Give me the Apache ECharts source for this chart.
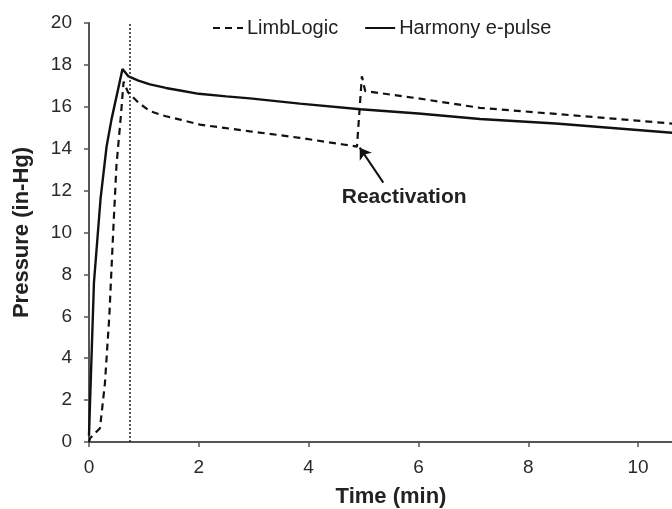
<!DOCTYPE html>
<html><head><meta charset="utf-8">
<script src="https://cdn.jsdelivr.net/npm/echarts@6/dist/echarts.min.js"></script>
<style>html,body{margin:0;padding:0;background:#fff}#c{width:672px;height:509px}</style>
</head><body><div id="c"></div>
<script>
var xTicks = [0, 2, 4, 6, 8, 10];
var yTicks = [0, 2, 4, 6, 8, 10, 12, 14, 16, 18, 20];
var harmonyX = [0, 0.02, 0.09, 0.21, 0.32, 0.41, 0.61, 0.72, 0.9, 1.11, 1.4, 1.66, 2.0, 2.5, 2.93, 3.84, 4.94, 6.0, 7.12, 8.5, 10.62, 11];
var harmonyY = [0.3, 2.0, 7.6, 11.6, 14.1, 15.4, 17.8, 17.45, 17.25, 17.07, 16.9, 16.78, 16.62, 16.5, 16.4, 16.15, 15.88, 15.68, 15.42, 15.2, 14.76, 14.7];
var limbX = [0, 0.02, 0.2, 0.29, 0.37, 0.44, 0.5, 0.58, 0.63, 0.71, 0.9, 1.11, 1.4, 1.66, 2.02, 2.5, 2.93, 3.84, 4.63, 4.88, 4.97, 5.03, 6.0, 7.12, 8.5, 10.62, 11];
var limbY = [0, 0.18, 0.66, 2.8, 6.0, 10.0, 13.2, 15.55, 17.2, 16.7, 16.2, 15.79, 15.55, 15.39, 15.15, 14.98, 14.83, 14.52, 14.2, 14.1, 17.46, 16.75, 16.4, 15.95, 15.66, 15.2, 15.12];
var markerX = 0.75;
var noteText = 'Reactivation';
var notePos = [5.74, 11.7];
var arrowFrom = [5.36, 12.38];
var arrowTo = [4.93, 14.05];

function pairs(xs, ys) { return xs.map(function (x, i) { return [x, ys[i]]; }); }

var chart = echarts.init(document.getElementById('c'));
var font = 'Liberation Sans, Arial, sans-serif';
chart.setOption({
  animation: false,
  backgroundColor: '#fff',
  legend: {
    top: 13, left: 207, itemWidth: 30, itemHeight: 10, itemGap: 26,
    itemStyle: { opacity: 0 },
    textStyle: { fontFamily: font, fontSize: 20, color: '#222', padding: [0, 0, 0, -1] },
    data: ['LimbLogic', 'Harmony e-pulse']
  },
  grid: { left: 89, right: -21, top: 23, bottom: 67, containLabel: false, outerBoundsMode: 'none' },
  xAxis: {
    type: 'value', min: 0, max: 11, interval: 2,
    name: 'Time (min)', nameLocation: 'middle', nameGap: 44,
    nameTextStyle: { fontFamily: font, fontSize: 22, fontWeight: 'bold', color: '#222' },
    axisLine: { lineStyle: { color: '#555', width: 2 } },
    axisTick: { show: true, length: 5, lineStyle: { color: '#555', width: 1.5 } },
    axisLabel: { fontFamily: font, fontSize: 19, color: '#2a2a2a', margin: 16, showMaxLabel: false,
      formatter: function (v) { return xTicks.indexOf(v) >= 0 ? String(v) : ''; } },
    splitLine: { show: false }
  },
  yAxis: {
    type: 'value', min: 0, max: 20, interval: 2,
    name: 'Pressure (in-Hg)', nameLocation: 'middle', nameGap: 56,
    nameTextStyle: { fontFamily: font, fontSize: 22, fontWeight: 'bold', color: '#222' },
    axisLine: { show: true, lineStyle: { color: '#555', width: 2 } },
    axisTick: { show: true, length: 5, lineStyle: { color: '#555', width: 1.5 } },
    axisLabel: { fontFamily: font, fontSize: 19, color: '#2a2a2a', margin: 17,
      formatter: function (v) { return yTicks.indexOf(v) >= 0 ? String(v) : ''; } },
    splitLine: { show: false }
  },
  series: [
    {
      name: 'LimbLogic', type: 'line', symbol: 'none', data: pairs(limbX, limbY),
      lineStyle: { color: '#111', width: 2.2, type: [7, 5] }, itemStyle: { color: '#111' },
      markLine: {
        silent: true, symbol: ['none', 'arrow'], symbolSize: 11,
        label: { show: false },
        lineStyle: { color: '#111', width: 2, type: 'solid' },
        data: [[{ coord: arrowFrom }, { coord: arrowTo }]]
      },
      markPoint: {
        silent: true, symbol: 'circle', symbolSize: 0,
        label: { show: true, formatter: noteText, fontFamily: font, fontSize: 21, fontWeight: 'bold', color: '#222', position: 'inside' },
        data: [{ coord: notePos }]
      }
    },
    {
      name: 'Harmony e-pulse', type: 'line', symbol: 'none', data: pairs(harmonyX, harmonyY),
      lineStyle: { color: '#111', width: 2.4, type: 'solid' }, itemStyle: { color: '#111' },
      markLine: {
        silent: true, symbol: ['none', 'none'], label: { show: false },
        lineStyle: { color: '#222', width: 1.5, type: [2, 2] },
        data: [{ xAxis: markerX }]
      }
    }
  ]
});
</script></body></html>
